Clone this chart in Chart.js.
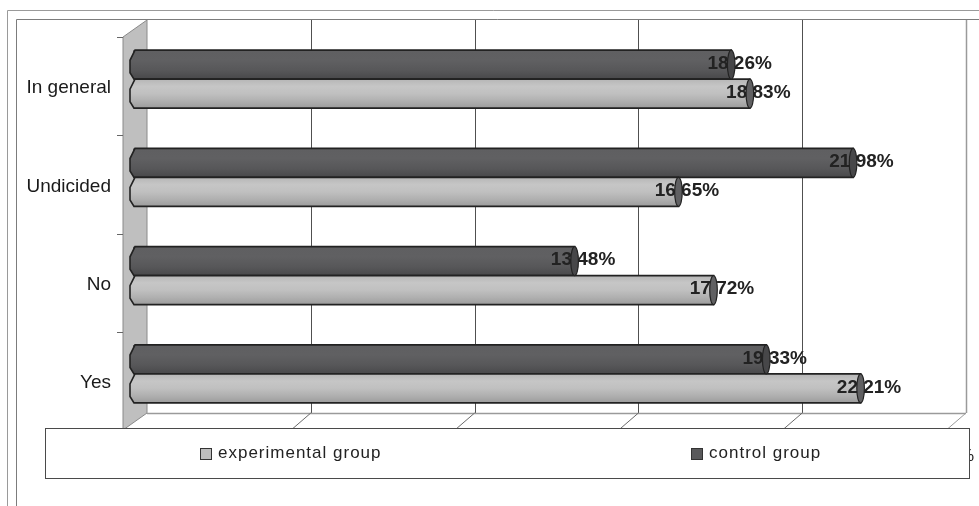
<!DOCTYPE html>
<html>
<head>
<meta charset="utf-8">
<script src="https://cdn.jsdelivr.net/npm/chart.js@4/dist/chart.umd.min.js"></script>
<style>
  html, body { margin: 0; padding: 0; background: #ffffff; }
  #wrap { position: relative; width: 979px; height: 506px; }
</style>
</head>
<body>
<div id="wrap"><canvas id="c" width="979" height="506"></canvas></div>
<script>
// ---- data ----
const categories = ['In general', 'Undicided', 'No', 'Yes'];
const experimentalGroup = [18.83, 16.65, 17.72, 22.21];
const controlGroup = [18.26, 21.98, 13.48, 19.33];
const seriesNames = ['control group', 'experimental group'];
const axisMin = 0;
const axisMax = 25;
const axisStep = 5;

const FONT = "'Liberation Sans', Arial, sans-serif";
const fmt = v => v.toFixed(2).replace('.', ',') + '%';

const styles = [
  { base: '#59595b', stops: [[0, '#5f5f61'], [0.35, '#606062'], [0.7, '#575759'], [1, '#48484a']], cap: '#474749' },
  { base: '#bdbdbd', stops: [[0, '#b6b6b6'], [0.25, '#c6c6c6'], [0.5, '#c0c0c0'], [0.75, '#b0b0b0'], [1, '#9c9c9c']], cap: '#606062' }
];

// 3D offsets
const BACK_DX = 14, BACK_DY = -10;   // back wall relative to bar plane
const FRONT_DX = -10, FRONT_DY = 7;  // front of side wall relative to bar plane

const framePlugin = {
  id: 'frames',
  beforeDraw(chart) {
    const c = chart.ctx;
    c.save();
    c.fillStyle = '#ffffff';
    c.fillRect(0, 0, chart.width, chart.height);
    c.lineWidth = 1;
    c.strokeStyle = '#9a9a9a';
    c.beginPath();
    c.moveTo(7.5, chart.height); c.lineTo(7.5, 10.5); c.lineTo(chart.width, 10.5);
    c.stroke();
    c.strokeStyle = '#7c7c7c';
    c.beginPath();
    c.moveTo(16.5, chart.height); c.lineTo(16.5, 19.5); c.lineTo(chart.width, 19.5);
    c.stroke();
    c.restore();
  }
};

const wallPlugin = {
  id: 'walls',
  beforeDatasetsDraw(chart) {
    const c = chart.ctx;
    const xs = chart.scales.x, ys = chart.scales.y;
    const L = chart.chartArea.left, T = chart.chartArea.top, B = chart.chartArea.bottom;
    const xMaxPx = xs.getPixelForValue(axisMax);
    c.save();
    // side wall
    c.beginPath();
    c.moveTo(L + FRONT_DX, T + FRONT_DY);
    c.lineTo(L + BACK_DX, T + BACK_DY);
    c.lineTo(L + BACK_DX, B + BACK_DY);
    c.lineTo(L + FRONT_DX, B + FRONT_DY);
    c.closePath();
    c.fillStyle = '#bfbfbf';
    c.fill();
    c.lineWidth = 1;
    c.strokeStyle = '#8a8a8a';
    c.stroke();
    // gridlines on back wall
    xs.ticks.forEach(t => {
      if (t.value <= axisMin) return;
      const gx = Math.round(xs.getPixelForValue(t.value) + BACK_DX) + 0.5;
      c.beginPath();
      c.strokeStyle = t.value >= axisMax ? '#9a9a9a' : '#505050';
      c.lineWidth = t.value >= axisMax ? 1.5 : 1;
      c.moveTo(gx, T + BACK_DY);
      c.lineTo(gx, B + BACK_DY);
      c.stroke();
    });
    // floor back edge
    c.beginPath();
    c.strokeStyle = '#9a9a9a';
    c.lineWidth = 1.5;
    c.moveTo(L + BACK_DX, B + BACK_DY + 0.5);
    c.lineTo(xMaxPx + BACK_DX, B + BACK_DY + 0.5);
    c.stroke();
    // floor diagonals
    xs.ticks.forEach(t => {
      if (t.value <= axisMin) return;
      const px = xs.getPixelForValue(t.value);
      c.beginPath();
      c.strokeStyle = t.value >= axisMax ? '#9a9a9a' : '#6a6a6a';
      c.lineWidth = 1;
      c.moveTo(px + BACK_DX, B + BACK_DY);
      c.lineTo(px + BACK_DX - 22, B + FRONT_DY + 2);
      c.stroke();
    });
    // category tick marks on front of side wall
    const n = categories.length;
    const bounds = [T];
    for (let i = 0; i < n - 1; i++) bounds.push((ys.getPixelForValue(i) + ys.getPixelForValue(i + 1)) / 2);
    bounds.push(B);
    c.strokeStyle = '#666';
    c.lineWidth = 1;
    bounds.forEach(by => {
      const yy = Math.round(by + FRONT_DY) + 0.5;
      c.beginPath();
      c.moveTo(L + FRONT_DX - 6, yy);
      c.lineTo(L + FRONT_DX, yy);
      c.stroke();
    });
    c.restore();
  }
};

const cylinderPlugin = {
  id: 'cylinders',
  afterDatasetsDraw(chart) {
    const c = chart.ctx;
    c.save();
    chart.data.datasets.forEach((ds, di) => {
      const meta = chart.getDatasetMeta(di);
      const st = styles[di];
      meta.data.forEach((el, i) => {
        const p = el.getProps(['x', 'y', 'base', 'height'], true);
        const h = p.height, top = p.y - h / 2, bot = p.y + h / 2;
        const base = p.base, right = p.x;
        const g = c.createLinearGradient(0, top, 0, bot);
        st.stops.forEach(s => g.addColorStop(s[0], s[1]));
        c.beginPath();
        c.moveTo(base + 2, top);
        c.lineTo(right, top);
        c.lineTo(right, bot);
        c.lineTo(base + 1, bot);
        c.lineTo(base - 3, bot - h * 0.22);
        c.lineTo(base - 3, top + h * 0.35);
        c.closePath();
        c.fillStyle = g;
        c.fill();
        c.lineWidth = 1.6;
        c.strokeStyle = '#222';
        c.stroke();
      });
    });
    // labels, then caps drawn over them
    chart.data.datasets.forEach((ds, di) => {
      const meta = chart.getDatasetMeta(di);
      const st = styles[di];
      meta.data.forEach((el, i) => {
        const p = el.getProps(['x', 'y', 'height'], true);
        const v = ds.data[i];
        const txt = fmt(v);
        c.font = 'bold 19px ' + FONT;
        c.textBaseline = 'middle';
        c.textAlign = 'left';
        c.fillStyle = '#222';
        const intPart = txt.split(',')[0];
        const sx = p.x - c.measureText(intPart).width - c.measureText(',').width / 2;
        c.fillText(txt, sx, p.y - 1);
        c.beginPath();
        c.ellipse(p.x, p.y, 3.8, p.height / 2, 0, 0, Math.PI * 2);
        c.fillStyle = st.cap;
        c.fill();
        c.lineWidth = 1.2;
        c.strokeStyle = '#222';
        c.stroke();
      });
    });
    c.restore();
  }
};

const legendPlugin = {
  id: 'boxLegend',
  afterDraw(chart) {
    const c = chart.ctx;
    c.save();
    c.fillStyle = '#ffffff';
    c.fillRect(45.5, 428.5, 924, 50);
    c.lineWidth = 1;
    c.strokeStyle = '#4a4a4a';
    c.strokeRect(45.5, 428.5, 924, 50);
    const order = [1, 0];
    const itemX = [200, 691];
    order.forEach((di, k) => {
      const ds = chart.data.datasets[di];
      const x = itemX[k];
      c.fillStyle = styles[di].base;
      c.fillRect(x + 0.5, 448.5, 11, 11);
      c.strokeStyle = '#333';
      c.strokeRect(x + 0.5, 448.5, 11, 11);
      c.fillStyle = '#222';
      c.font = '17px ' + FONT;
      c.textBaseline = 'middle';
      c.textAlign = 'left';
      if ('letterSpacing' in c) c.letterSpacing = '1px';
      c.fillText(ds.label, x + 18, 453.5);
      if ('letterSpacing' in c) c.letterSpacing = '0px';
    });
    c.restore();
  }
};

new Chart(document.getElementById('c'), {
  type: 'bar',
  data: {
    labels: categories,
    datasets: [
      { label: seriesNames[0], data: controlGroup, backgroundColor: styles[0].base, borderWidth: 0 },
      { label: seriesNames[1], data: experimentalGroup, backgroundColor: styles[1].base, borderWidth: 0 }
    ]
  },
  options: {
    indexAxis: 'y',
    responsive: false,
    animation: false,
    devicePixelRatio: 1,
    layout: { padding: { top: 30, left: 0, right: 27, bottom: 0 } },
    categoryPercentage: 0.59,
    barPercentage: 1.0,
    plugins: {
      legend: { display: false },
      tooltip: { enabled: false }
    },
    scales: {
      x: {
        min: axisMin, max: axisMax,
        ticks: {
          stepSize: axisStep,
          padding: 15,
          labelOffset: 5,
          color: '#222',
          font: { family: FONT, size: 17 },
          callback: v => v + '%'
        },
        grid: { display: false },
        border: { display: false },
        afterFit: s => { s.height = 83; s.paddingLeft = 0; s.paddingRight = 0; }
      },
      y: {
        ticks: {
          padding: 14,
          labelOffset: 9,
          color: '#1a1a1a',
          font: { family: FONT, size: 19 }
        },
        grid: { display: false },
        border: { display: false },
        afterFit: s => { s.width = 133; s.paddingTop = 0; s.paddingBottom = 0; }
      }
    }
  },
  plugins: [framePlugin, wallPlugin, cylinderPlugin, legendPlugin]
});
</script>
</body>
</html>
